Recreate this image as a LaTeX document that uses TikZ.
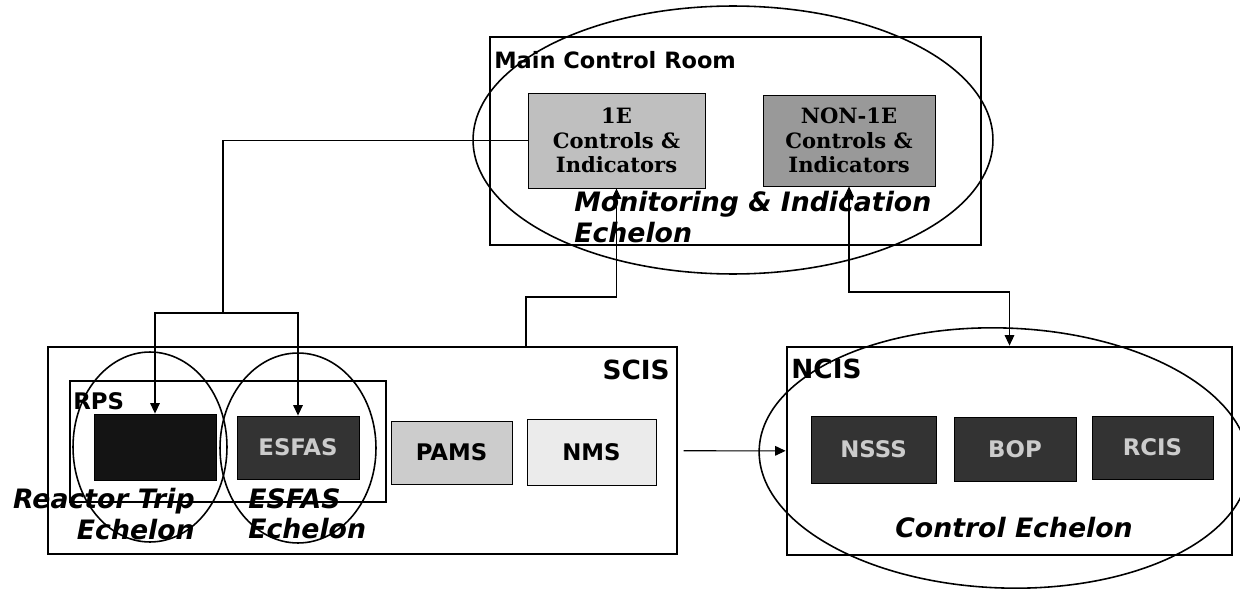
\documentclass[tikz,border=0pt]{standalone}
\usepackage{fontspec}
\setmainfont{DejaVu Sans}
\newfontfamily\slabfont{DejaVu Serif}
\usepackage{tikz}
\usetikzlibrary{arrows.meta,positioning,calc}

\begin{document}
\begin{tikzpicture}[
    x=0.02cm, y=-0.02cm,
    panel/.style={rectangle, draw, line width=1.6pt, inner sep=0pt},
    box/.style={rectangle, draw, line width=0.5pt, fill=#1, inner sep=0pt, minimum width=2.44cm, minimum height=1.3cm, font=\bfseries\fontsize{13}{15}\selectfont},
    darkbox/.style={box=#1, text=white!80!black},
    ctrlbox/.style={box=#1, align=center, font=\slabfont\bfseries\fontsize{12}{14}\selectfont},
    title/.style={font=\bfseries\fontsize{#1}{#1}\selectfont, inner sep=0pt},
    echelon/.style={font=\bfseries\itshape\fontsize{15.2}{17.5}\selectfont, inner sep=0pt},
    ring/.style={line width=0.9pt},
    link/.style={line width=0.6pt},
    >={Triangle[length=6pt,width=5.5pt]}
]
    \useasboundingbox (0,0) rectangle (1240,588);

    \node[panel, minimum width=9.82cm, minimum height=4.16cm] (mcr) at (735.5,141) {};
    \node[panel, minimum width=12.58cm, minimum height=4.14cm] (scis) at (362.5,450.5) {};
    \node[panel, line width=1.2pt, minimum width=6.32cm, minimum height=2.42cm] (rps) at (228,441.5) {};
    \node[panel, minimum width=8.9cm, minimum height=4.16cm] (ncis) at (1009.5,451) {};

    \node[title=12.8, anchor=west] (mcrlabel) at (494,60) {Main Control Room};
    \node[title=15, anchor=east] (scislabel) at (670,370) {SCIS};
    \node[title=13, anchor=west] (rpslabel) at (73,401) {RPS};
    \node[title=15, anchor=west] (ncislabel) at (791,369) {NCIS};

    \node[ctrlbox=black!25, minimum width=3.54cm, minimum height=1.9cm] (ie) at (616.5,140.5) {1E\\Controls \&\\Indicators};
    \node[ctrlbox=black!40, minimum width=3.44cm, minimum height=1.82cm] (nonie) at (849,140.5) {NON-1E\\Controls \&\\Indicators};

    \node[darkbox=black!92, minimum height=1.32cm] (rt) at (155,447) {};
    \node[darkbox=black!80, minimum height=1.26cm] (esfas) at (298,447.5) {ESFAS};
    \node[box=black!20, minimum width=2.42cm, minimum height=1.26cm] (pams) at (451.5,452.5) {PAMS};
    \node[box=black!8, minimum width=2.58cm, minimum height=1.32cm] (nms) at (591.5,452) {NMS};

    \node[darkbox=black!80, minimum width=2.5cm, minimum height=1.34cm] (nsss) at (873.5,449.5) {NSSS};
    \node[darkbox=black!80, minimum height=1.28cm] (bop) at (1015,449) {BOP};
    \node[darkbox=black!80, minimum width=2.42cm, minimum height=1.26cm] (rcis) at (1152.5,447.5) {RCIS};

    \node[echelon, anchor=north west, align=left] (monech) at (574,191) {Monitoring \& Indication\\Echelon};
    \node[echelon, anchor=north east, align=right] (rtech) at (195,488) {Reactor Trip\\Echelon};
    \node[echelon, anchor=north west, align=left] (esech) at (248,488) {ESFAS\\Echelon};
    \node[echelon] (ctrlech) at (1014,528) {Control Echelon};

    \draw[ring] (733,140) ellipse [x radius=5.2cm, y radius=2.68cm];
    \draw[ring] (150,447) ellipse [x radius=1.54cm, y radius=1.9cm];
    \draw[ring] (298,448) ellipse [x radius=1.56cm, y radius=1.9cm];
    \draw[ring, rotate around={-2:(1004,458)}] (1004,458) ellipse [x radius=4.9cm, y radius=2.6cm];

    \coordinate (split) at (223,313);
    \draw[link] (ie.west) -| (split);
    \draw[link,->] (split) -| (rt.north);
    \draw[link,->] (split) -| (esfas.north);

    \coordinate (scistap) at (526,347);
    \coordinate (mcrjog) at (616.5,297);
    \draw[link,->] (scistap) |- (mcrjog) -- (ie.south);

    \coordinate (ncisjog) at (1009.5,292);
    \draw[link,<->] (nonie.south) |- (ncisjog) -- (ncis.north);

    \draw[link,->,shorten <=3pt] (scis) -- (ncis);
\end{tikzpicture}
\end{document}
